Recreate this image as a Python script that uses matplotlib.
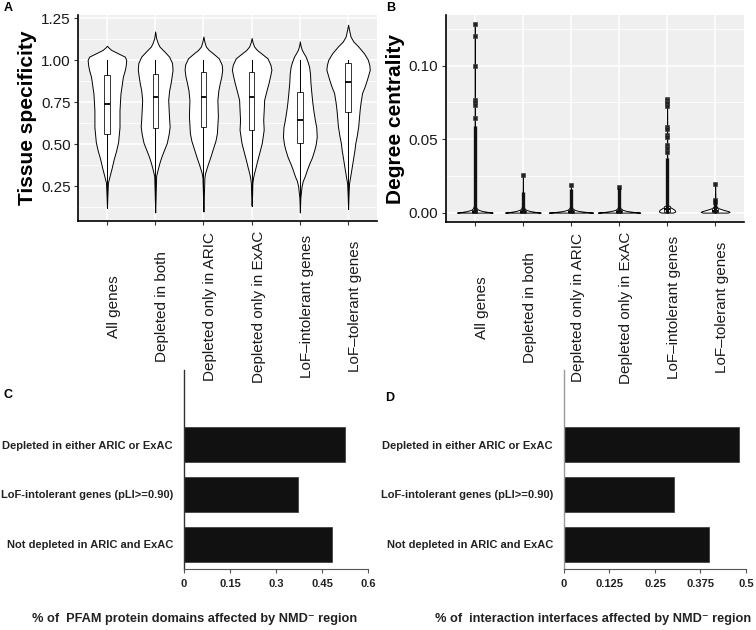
import matplotlib
matplotlib.use("Agg")
import matplotlib.pyplot as plt
from matplotlib.ticker import MultipleLocator
import numpy as np

plt.rcParams['font.family'] = ['Liberation Sans', 'DejaVu Sans']

groups = ["All genes", "Depleted in both", "Depleted only in ARIC",
          "Depleted only in ExAC", "LoF\u2013intolerant genes", "LoF\u2013tolerant genes"]

# ---- panel A: tissue specificity, violin outlines (value, half width)
ts_coords = [
    [0.12, 0.20, 0.27, 0.31, 0.36, 0.41, 0.46, 0.51, 0.60, 0.70, 0.80, 0.86, 0.90, 0.94, 0.97, 1.00, 1.02, 1.04, 1.06, 1.075, 1.085],
    [0.093, 0.20, 0.31, 0.347, 0.39, 0.426, 0.47, 0.506, 0.56, 0.605, 0.645, 0.70, 0.764, 0.82, 0.863, 0.90, 0.942, 0.982, 1.02, 1.051, 1.08, 1.10, 1.13, 1.17],
    [0.099, 0.20, 0.30, 0.327, 0.36, 0.387, 0.42, 0.466, 0.52, 0.565, 0.664, 0.764, 0.82, 0.863, 0.90, 0.942, 0.972, 1.01, 1.042, 1.06, 1.081, 1.11, 1.14],
    [0.133, 0.20, 0.267, 0.30, 0.327, 0.36, 0.407, 0.45, 0.506, 0.585, 0.645, 0.70, 0.764, 0.82, 0.863, 0.90, 0.942, 0.972, 1.01, 1.042, 1.06, 1.081, 1.105, 1.131],
    [0.093, 0.18, 0.248, 0.28, 0.307, 0.35, 0.387, 0.42, 0.466, 0.50, 0.545, 0.60, 0.645, 0.70, 0.744, 0.80, 0.863, 0.92, 0.962, 0.99, 1.021, 1.04, 1.061, 1.085, 1.111],
    [0.113, 0.20, 0.267, 0.30, 0.327, 0.37, 0.407, 0.46, 0.506, 0.55, 0.605, 0.704, 0.75, 0.804, 0.84, 0.883, 0.942, 0.97, 1.002, 1.04, 1.081, 1.11, 1.14, 1.18, 1.21],
]
ts_half = [
    [0.0, 0.01, 0.02, 0.055, 0.10, 0.14, 0.19, 0.23, 0.26, 0.26, 0.28, 0.31, 0.33, 0.37, 0.39, 0.40, 0.37, 0.23, 0.09, 0.03, 0.0],
    [0.0, 0.01, 0.02, 0.05, 0.09, 0.13, 0.19, 0.24, 0.28, 0.30, 0.29, 0.28, 0.27, 0.29, 0.32, 0.34, 0.36, 0.35, 0.29, 0.19, 0.09, 0.055, 0.02, 0.0],
    [0.0, 0.01, 0.02, 0.035, 0.07, 0.10, 0.14, 0.19, 0.25, 0.28, 0.30, 0.29, 0.31, 0.34, 0.37, 0.39, 0.38, 0.32, 0.19, 0.11, 0.05, 0.02, 0.0],
    [0.0, 0.01, 0.015, 0.03, 0.05, 0.08, 0.12, 0.16, 0.21, 0.25, 0.24, 0.25, 0.26, 0.31, 0.35, 0.38, 0.41, 0.39, 0.33, 0.19, 0.11, 0.05, 0.02, 0.0],
    [0.0, 0.01, 0.035, 0.06, 0.10, 0.15, 0.20, 0.25, 0.30, 0.33, 0.35, 0.34, 0.31, 0.28, 0.26, 0.24, 0.22, 0.21, 0.19, 0.16, 0.12, 0.08, 0.04, 0.015, 0.0],
    [0.0, 0.01, 0.02, 0.04, 0.055, 0.08, 0.10, 0.13, 0.15, 0.18, 0.21, 0.24, 0.26, 0.29, 0.34, 0.39, 0.45, 0.44, 0.41, 0.33, 0.21, 0.11, 0.05, 0.02, 0.0],
]
ts_q1 = [0.561, 0.597, 0.601, 0.583, 0.506, 0.690]
ts_med = [0.736, 0.780, 0.780, 0.777, 0.641, 0.867]
ts_q3 = [0.908, 0.917, 0.926, 0.930, 0.811, 0.980]
ts_lo = [0.12, 0.093, 0.099, 0.133, 0.093, 0.113]
ts_hi = [1.0, 1.0, 1.0, 1.0, 1.0, 1.0]

# ---- panel B: degree centrality
dc_coords = [
    [0, 0.0005, 0.001, 0.0015, 0.002, 0.003, 0.005, 0.01, 0.03, 0.06, 0.10, 0.128],
    [0, 0.0005, 0.001, 0.0015, 0.002, 0.003, 0.005, 0.01, 0.0255],
    [0, 0.0005, 0.001, 0.0015, 0.002, 0.003, 0.005, 0.01, 0.019],
    [0, 0.0005, 0.001, 0.0015, 0.002, 0.003, 0.005, 0.01, 0.0174],
    [0, 0.0005, 0.001, 0.002, 0.003, 0.004, 0.005, 0.007, 0.01, 0.03, 0.06, 0.0776],
    [0, 0.0005, 0.001, 0.002, 0.003, 0.004, 0.006, 0.01, 0.0197],
]
dc_half = [
    [0.37, 0.26, 0.17, 0.11, 0.07, 0.035, 0.015, 0.008, 0.005, 0.004, 0.003, 0.0],
    [0.37, 0.25, 0.16, 0.10, 0.06, 0.03, 0.012, 0.005, 0.0],
    [0.46, 0.30, 0.18, 0.11, 0.07, 0.03, 0.012, 0.005, 0.0],
    [0.44, 0.29, 0.18, 0.11, 0.07, 0.03, 0.012, 0.005, 0.0],
    [0.12, 0.16, 0.17, 0.15, 0.10, 0.05, 0.025, 0.01, 0.006, 0.004, 0.003, 0.0],
    [0.26, 0.30, 0.27, 0.16, 0.07, 0.03, 0.012, 0.005, 0.0],
]
dc_q1 = [0.0, 0.0, 0.0, 0.0, 0.0007, 0.0003]
dc_med = [0.0005, 0.0005, 0.0005, 0.0005, 0.0023, 0.0012]
dc_q3 = [0.002, 0.002, 0.0015, 0.0015, 0.0045, 0.0028]
dc_lo = [0.0, 0.0, 0.0, 0.0, 0.0, 0.0]
dc_hi = [0.005, 0.005, 0.004, 0.004, 0.010, 0.006]
dc_dense_top = [0.0586, 0.0139, 0.0162, 0.0165, 0.037, 0.0093]
dc_outliers = [
    [0.128, 0.120, 0.100, 0.0769, 0.075, 0.0735, 0.0646],
    [0.0255],
    [0.019],
    [0.0174],
    [0.0776, 0.0765, 0.0755, 0.0745, 0.0725, 0.0579, 0.0567, 0.0525, 0.0515, 0.046, 0.044, 0.041],
    [0.0197, 0.0085, 0.0075],
]

# ---- panels C and D
bar_labels = ["Not depleted in ARIC and ExAC", "LoF-intolerant genes (pLI>=0.90)",
              "Depleted in either ARIC or ExAC"]
pfam_pct = [0.484, 0.373, 0.525]
iface_pct = [0.399, 0.302, 0.482]
pfam_ticks = [0, 0.15, 0.3, 0.45, 0.6]
pfam_ticklabels = ["0", "0.15", "0.3", "0.45", "0.6"]
iface_ticks = [0, 0.125, 0.25, 0.375, 0.5]
iface_ticklabels = ["0", "0.125", "0.25", "0.375", "0.5"]

pos = np.arange(1, len(groups) + 1)

fig = plt.figure(figsize=(7.56, 6.3), dpi=100)
axC = fig.add_axes([0.2434, 0.0968, 0.2434, 0.3159])
axD = fig.add_axes([0.7460, 0.0968, 0.2407, 0.3159])
axA = fig.add_axes([0.1032, 0.6492, 0.3955, 0.3270])
axB = fig.add_axes([0.5899, 0.6476, 0.3942, 0.3286])


def gg_style(ax, minor_step):
    ax.set_facecolor('#efefef')
    ax.set_axisbelow(True)
    ax.yaxis.set_minor_locator(MultipleLocator(minor_step))
    ax.grid(which='major', color='white', lw=1.1)
    ax.grid(which='minor', axis='y', color='white', lw=0.55)
    for s in ['top', 'right']:
        ax.spines[s].set_visible(False)
    for s in ['left', 'bottom']:
        ax.spines[s].set_linewidth(1.2)
        ax.spines[s].set_color('black')
    ax.tick_params(which='minor', length=0)
    ax.tick_params(which='major', length=3, width=0.8, color='#333333',
                   labelsize=11, labelcolor='#1a1a1a')
    ax.tick_params(axis='y', pad=2.4)
    ax.set_xlim(0.4, 6.6)
    ax.set_xticks(pos)
    ax.set_xticklabels(groups, rotation=90, ha='left', va='center')
    ax.tick_params(axis='x', pad=58.5)


def draw_violins(ax, coords, halves):
    stats = []
    for c, h in zip(coords, halves):
        stats.append(dict(coords=np.array(c), vals=np.array(h), mean=np.nan,
                          median=np.nan, min=c[0], max=c[-1]))
    widths = [2 * max(h) for h in halves]
    parts = ax.violin(stats, positions=pos, widths=widths, showextrema=False)
    for b in parts['bodies']:
        b.set_facecolor('white')
        b.set_edgecolor('black')
        b.set_linewidth(0.7)
        b.set_alpha(1)
        b.set_zorder(2)


def draw_boxes(ax, q1, med, q3, lo, hi, fliers=None):
    stats = []
    for i in range(len(q1)):
        stats.append(dict(q1=q1[i], med=med[i], q3=q3[i], whislo=lo[i], whishi=hi[i],
                          fliers=fliers[i] if fliers else []))
    ax.bxp(stats, positions=pos, widths=0.11, patch_artist=True, showcaps=False,
           manage_ticks=False,
           boxprops=dict(facecolor='white', edgecolor='#333333', lw=0.7),
           medianprops=dict(color='black', lw=1.3),
           whiskerprops=dict(color='black', lw=0.7),
           flierprops=dict(marker='s', markersize=3.3, markerfacecolor='#222222',
                           markeredgecolor='#444444', markeredgewidth=0.5),
           zorder=3)


# A
gg_style(axA, 0.125)
draw_violins(axA, ts_coords, ts_half)
draw_boxes(axA, ts_q1, ts_med, ts_q3, ts_lo, ts_hi)
axA.set_ylim(0.042, 1.268)
axA.set_yticks([0.25, 0.5, 0.75, 1.0, 1.25])
axA.set_yticklabels(["0.25", "0.50", "0.75", "1.00", "1.25"])
axA.set_ylabel("Tissue specificity", fontsize=15, fontweight='bold', labelpad=3)

# B
gg_style(axB, 0.025)
draw_violins(axB, dc_coords, dc_half)
draw_boxes(axB, dc_q1, dc_med, dc_q3, dc_lo, dc_hi)
axB.vlines(pos, 0, dc_dense_top, colors='#111111', lw=2.4, zorder=3.5)
draw_boxes(axB, dc_q1, dc_med, dc_q3, dc_lo, dc_hi, dc_outliers)
axB.set_ylim(-0.0064, 0.1344)
axB.set_yticks([0.0, 0.05, 0.10])
axB.set_yticklabels(["0.00", "0.05", "0.10"])
axB.set_ylabel("Degree centrality", fontsize=15, fontweight='bold', labelpad=3)


def bar_panel(ax, vals, ticks, ticklabels, left_color):
    ax.set_facecolor('none')
    ypos = np.arange(len(bar_labels))
    ax.barh(ypos, vals, height=0.7, color='#111111', edgecolor='#333333', lw=0.5)
    ax.set_ylim(-0.5, 3.5)
    ax.set_xlim(ticks[0], ticks[-1])
    ax.set_yticks(ypos)
    ax.set_yticklabels(bar_labels, fontsize=8, fontweight='bold', color='#222222')
    ax.set_xticks(ticks)
    ax.set_xticklabels(ticklabels, fontsize=8, fontweight='bold', color='#222222')
    ax.tick_params(axis='y', length=0, pad=8)
    ax.tick_params(axis='x', length=3, width=0.8, color='#555555', pad=4)
    for s in ['top', 'right']:
        ax.spines[s].set_visible(False)
    ax.spines['left'].set_color(left_color)
    ax.spines['left'].set_linewidth(1.0)
    ax.spines['bottom'].set_color('#555555')
    ax.spines['bottom'].set_linewidth(0.8)


bar_panel(axC, pfam_pct, pfam_ticks, pfam_ticklabels, '#333333')
bar_panel(axD, iface_pct, iface_ticks, iface_ticklabels, '#999999')

fig.text(0.2575, 0.0175, "% of  PFAM protein domains affected by NMD\u207b region",
         ha='center', va='center', fontsize=9.2, fontweight='bold', color='#222222')
fig.text(0.785, 0.0175, "% of  interaction interfaces affected by NMD\u207b region",
         ha='center', va='center', fontsize=9.2, fontweight='bold', color='#222222')

for lab, x, y in [("A", 0.0106, 0.988), ("B", 0.5165, 0.988),
                  ("C", 0.0106, 0.373), ("D", 0.516, 0.368)]:
    fig.text(x, y, lab, ha='center', va='center', fontsize=9, fontweight='bold')

fig.savefig("out.png", dpi=100)
